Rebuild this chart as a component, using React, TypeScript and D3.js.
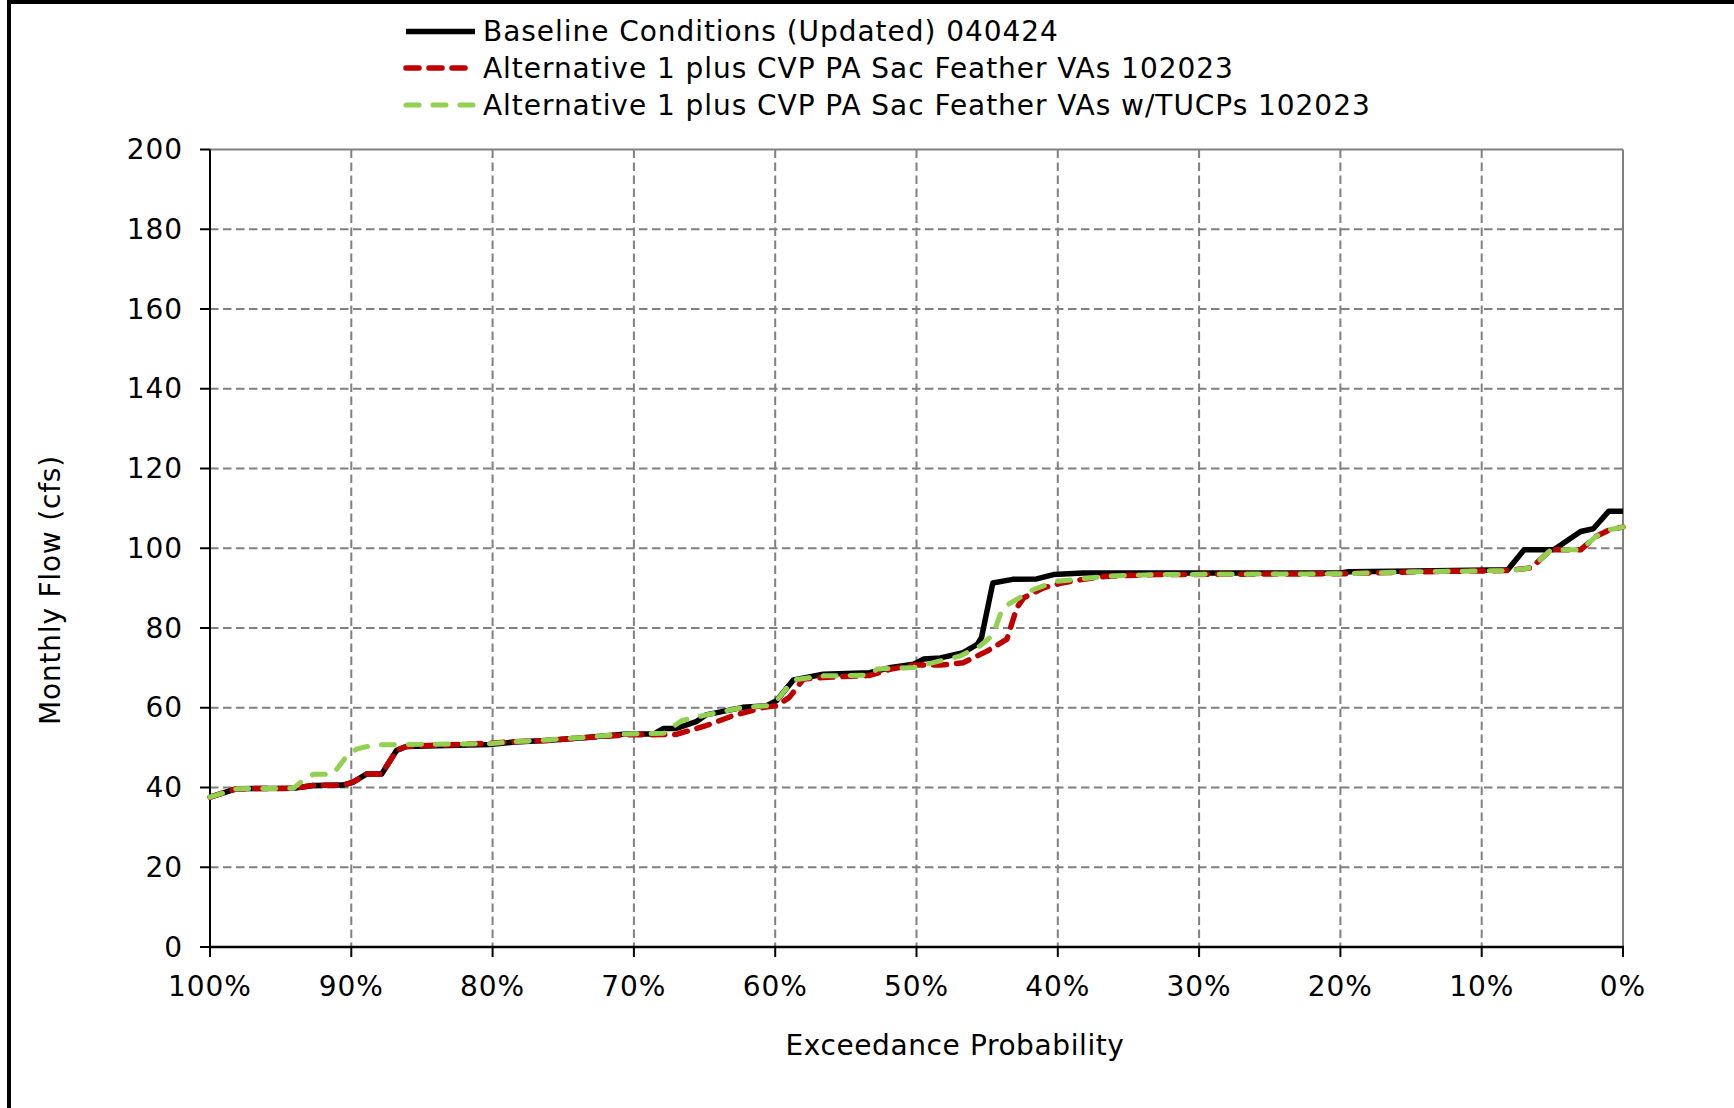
import React from "react";
import * as d3 from "d3";

// Exceedance probability (%) and monthly flow (cfs) for each scenario
const baselineProb = [100, 98.1, 94.1, 92.7, 90.6, 89.9, 88.9, 87.85, 86.8, 86.1, 80.2, 78.5, 76.2, 73.8, 70.5, 68.6, 67.9, 67.0, 65.6, 64.9, 62.3, 60.6, 59.9, 58.7, 56.6, 53.3, 51.8, 50.2, 49.5, 48.3, 46.7, 45.7, 45.4, 44.6, 43.2, 41.5, 40.3, 38.2, 20, 19.4, 14.7, 8.15, 7.0, 4.9, 3.0, 2.1, 1.0, 0];
const baselineFlow = [37.6, 39.7, 39.8, 40.5, 40.6, 41.3, 43.4, 43.4, 49.3, 50.3, 50.8, 51.4, 51.8, 52.4, 53.4, 53.4, 54.8, 54.8, 56.5, 58.2, 60.1, 60.5, 61.8, 67.0, 68.4, 68.8, 70.1, 70.9, 72.2, 72.5, 73.8, 75.9, 77.6, 91.3, 92.2, 92.3, 93.4, 93.8, 93.8, 94.1, 94.3, 94.6, 99.6, 99.6, 104.2, 104.9, 109.3, 109.3];

const alt1Prob = [100, 98.1, 94.1, 92.7, 90.6, 89.9, 88.9, 87.85, 86.8, 86.1, 80.2, 78.5, 76.2, 73.8, 70.5, 67.0, 64.9, 63.0, 60.8, 59.9, 59.0, 58.0, 56.6, 53.3, 51.8, 50.2, 48.3, 46.7, 45.0, 43.6, 42.9, 42.4, 41.0, 39.7, 38.2, 36.5, 33.0, 20, 14.7, 8.1, 6.5, 5.1, 3.0, 1.9, 0.9, 0];
const alt1Flow = [37.6, 39.7, 39.8, 40.5, 40.6, 41.3, 43.4, 43.4, 49.3, 50.3, 51.1, 51.5, 51.8, 52.4, 53.2, 53.3, 55.5, 58.0, 60.1, 60.5, 62.6, 67.2, 67.6, 68.1, 69.7, 70.7, 70.7, 71.3, 74.2, 77.2, 85.1, 87.6, 90.1, 91.3, 92.2, 93.0, 93.4, 93.6, 94.1, 94.4, 95.1, 99.6, 99.6, 103.0, 104.7, 105.3];

const alt1TucpProb = [100, 98.1, 94.1, 93.6, 92.7, 91.3, 90.3, 89.6, 88.3, 80.2, 78.5, 76.2, 73.8, 70.5, 67.9, 66.6, 64.9, 62.3, 60.6, 59.9, 58.7, 56.6, 53.3, 52.8, 50.2, 46.9, 45.5, 44.6, 43.9, 42.7, 41.7, 40.1, 38.7, 36.5, 33.0, 20, 14.7, 8.1, 6.5, 5.1, 3.0, 1.9, 0.9, 0];
const alt1TucpFlow = [37.6, 39.7, 39.8, 41.3, 43.3, 43.3, 48.0, 49.7, 50.7, 51.0, 51.5, 51.9, 52.5, 53.4, 53.6, 56.8, 58.2, 60.1, 60.5, 61.8, 67.0, 68.0, 68.2, 69.7, 70.1, 73.0, 75.5, 78.2, 85.1, 87.6, 89.7, 91.7, 92.2, 93.0, 93.4, 93.6, 94.1, 94.4, 95.1, 99.6, 99.6, 103.0, 104.7, 105.3];

const seriesNames = [
  "Baseline Conditions (Updated) 040424",
  "Alternative 1 plus CVP PA Sac Feather VAs 102023",
  "Alternative 1 plus CVP PA Sac Feather VAs w/TUCPs 102023",
];

const xTickValues = [100, 90, 80, 70, 60, 50, 40, 30, 20, 10, 0];
const yTickValues = [0, 20, 40, 60, 80, 100, 120, 140, 160, 180, 200];

const W = 1734;
const H = 1108;
const plot = { left: 210, right: 1623, top: 149.5, bottom: 947 };
const FONT = "'DejaVu Sans', Verdana, sans-serif";
const FS = 28;
const LS = 0.95;

type Style = { color: string; width: number; dash?: string; cap: "round" | "butt" };
const styles: Style[] = [
  { color: "#000000", width: 5.5, cap: "butt" },
  { color: "#c00000", width: 5.5, dash: "13 10", cap: "round" },
  { color: "#92d050", width: 5, dash: "13 14", cap: "round" },
];

export default function App() {
  const x = d3.scaleLinear().domain([100, 0]).range([plot.left, plot.right]);
  const y = d3.scaleLinear().domain([0, 200]).range([plot.bottom, plot.top]);

  const toPoints = (p: number[], v: number[]) => p.map((pp, i) => [pp, v[i]] as [number, number]);
  const series = [
    toPoints(baselineProb, baselineFlow),
    toPoints(alt1Prob, alt1Flow),
    toPoints(alt1TucpProb, alt1TucpFlow),
  ];
  const line = d3
    .line<[number, number]>()
    .x((d) => x(d[0]))
    .y((d) => y(d[1]))
    .curve(d3.curveLinear);

  const grid = "#808080";
  const legendRows = [31.5, 68, 105];

  return (
    <svg
      width={W}
      height={H}
      viewBox={`0 0 ${W} ${H}`}
      style={{ position: "absolute", left: 0, top: 0, background: "#fff" }}
      fontFamily={FONT}
      letterSpacing={LS}
    >
      <rect x={0} y={0} width={W} height={H} fill="#fff" />
      {/* frame edges */}
      <rect x={7} y={0} width={W - 7} height={4} fill="#000" />
      <rect x={7} y={0} width={4} height={H} fill="#000" />

      {/* horizontal gridlines */}
      {yTickValues
        .filter((v) => v > 0 && v < 200)
        .map((v) => (
          <line key={`hg${v}`} x1={plot.left} x2={plot.right} y1={y(v)} y2={y(v)} stroke={grid} strokeWidth={2} strokeDasharray="8.5 4.5" />
        ))}
      {/* vertical gridlines */}
      {xTickValues
        .filter((p) => p > 0 && p < 100)
        .map((p) => (
          <line key={`vg${p}`} x1={x(p)} x2={x(p)} y1={plot.top} y2={plot.bottom} stroke={grid} strokeWidth={2} strokeDasharray="8.5 4.5" />
        ))}
      {/* plot frame: top and right */}
      <line x1={plot.left} x2={plot.right} y1={plot.top} y2={plot.top} stroke={grid} strokeWidth={2} />
      <line x1={plot.right} x2={plot.right} y1={plot.top} y2={plot.bottom} stroke={grid} strokeWidth={2} />

      {/* axes */}
      <line x1={plot.left} x2={plot.left} y1={plot.top} y2={plot.bottom} stroke="#000" strokeWidth={2} />
      <line x1={plot.left - 1} x2={plot.right + 1} y1={plot.bottom} y2={plot.bottom} stroke="#000" strokeWidth={2.5} />
      {yTickValues.map((v) => (
        <g key={`yt${v}`}>
          <line x1={plot.left - 10} x2={plot.left} y1={y(v)} y2={y(v)} stroke="#000" strokeWidth={2} />
          <text x={183} y={y(v)} textAnchor="end" dominantBaseline="central" fontSize={FS} fill="#000">
            {v}
          </text>
        </g>
      ))}
      {xTickValues.map((p) => (
        <g key={`xt${p}`}>
          <line x1={x(p)} x2={x(p)} y1={plot.bottom} y2={plot.bottom + 10} stroke="#000" strokeWidth={2} />
          <text x={x(p)} y={986} textAnchor="middle" dominantBaseline="central" fontSize={FS} fill="#000">
            {`${p}%`}
          </text>
        </g>
      ))}

      {/* axis titles */}
      <text x={955} y={1045} textAnchor="middle" dominantBaseline="central" fontSize={FS} fill="#000" letterSpacing={0.6}>
        Exceedance Probability
      </text>
      <text
        transform={`translate(50,590) rotate(-90)`}
        textAnchor="middle"
        dominantBaseline="central"
        fontSize={FS}
        fill="#000"
        letterSpacing={0.8}
      >
        Monthly Flow (cfs)
      </text>

      {/* series */}
      {series.map((pts, i) => (
        <path
          key={`s${i}`}
          d={line(pts) ?? ""}
          fill="none"
          stroke={styles[i].color}
          strokeWidth={styles[i].width}
          strokeDasharray={styles[i].dash}
          strokeLinecap={styles[i].cap}
          strokeLinejoin="round"
        />
      ))}

      {/* legend */}
      {seriesNames.map((name, i) => (
        <g key={`lg${i}`}>
          <line
            x1={406}
            x2={475}
            y1={legendRows[i]}
            y2={legendRows[i]}
            stroke={styles[i].color}
            strokeWidth={styles[i].width}
            strokeDasharray={styles[i].dash}
            strokeLinecap={styles[i].cap}
          />
          <text x={483} y={legendRows[i]} dominantBaseline="central" fontSize={FS} fill="#000">
            {name}
          </text>
        </g>
      ))}
    </svg>
  );
}
